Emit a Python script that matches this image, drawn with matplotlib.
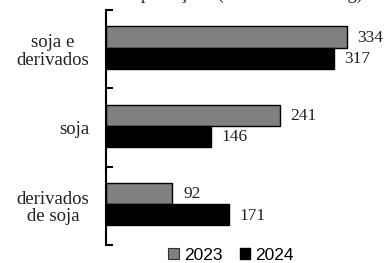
import matplotlib
matplotlib.use("Agg")
import matplotlib.pyplot as plt
from matplotlib.patches import Patch

categories = ["soja e\nderivados", "soja", "derivados\nde soja"]
years = ["2023", "2024"]
values_2023 = [334, 241, 92]
values_2024 = [317, 146, 171]

W, H = 390, 263
fig = plt.figure(figsize=(W / 100, H / 100), dpi=100)
left, right_px, top, bottom = 106, 390, 10, 245
ax = fig.add_axes([left / W, 1 - bottom / H, (right_px - left) / W, (bottom - top) / H])

centers = [i + 0.5 for i in range(len(categories))]
bh = 0.27
ax.barh([c - bh / 2 - 0.02 for c in centers], values_2023, height=bh, color="#808080",
        edgecolor="black", linewidth=1.0, label=years[0])
ax.barh([c + bh / 2 - 0.02 for c in centers], values_2024, height=bh, color="black",
        edgecolor="black", linewidth=1.0, label=years[1])

for c, v in zip(centers, values_2023):
    ax.text(v + 15, c - bh / 2 - 0.01, str(v), va="center", ha="left",
            fontsize=12.5, family="Liberation Serif", color="#222222")
for c, v in zip(centers, values_2024):
    ax.text(v + 14, c + bh / 2 - 0.01, str(v), va="center", ha="left",
            fontsize=12.5, family="Liberation Serif", color="#222222")

ax.set_xlim(0, (right_px - left) / 0.7207)
ax.set_ylim(3, 0)
ax.set_yticks([0, 1, 2, 3])
ax.set_yticklabels([])
ax.set_yticks(centers, minor=True)
ax.set_yticklabels(categories, minor=True, fontsize=13.5, family="Liberation Serif",
                   color="#222222", multialignment="center", linespacing=1.05)
ax.tick_params(axis="y", which="major", direction="in", length=5, width=1.5)
ax.tick_params(axis="y", which="minor", length=0, pad=12)
ax.set_xticks([])
for s in ["top", "right", "bottom"]:
    ax.spines[s].set_visible(False)
ax.spines["left"].set_linewidth(1.5)

fig.text(0.62, 1 + 1.0 / H, "Exportações (em milhões de kg)", ha="center", va="baseline",
         fontsize=13.5, family="Liberation Serif", color="#222222")

handles = [Patch(facecolor="#808080", edgecolor="#333333", linewidth=0.8),
           Patch(facecolor="black", edgecolor="black")]
fig.legend(handles, years, loc="center", bbox_to_anchor=(231 / W, 1 - 255 / H), ncol=2,
           frameon=False, handlelength=0.6, handleheight=0.6, handletextpad=0.3,
           columnspacing=1.0, prop={"family": "Liberation Sans", "size": 12.5})

fig.savefig("out.png", dpi=100)
